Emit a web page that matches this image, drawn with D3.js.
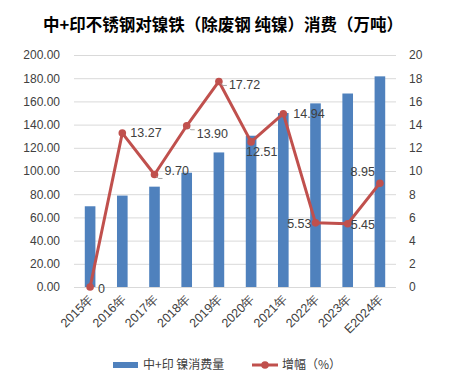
<!DOCTYPE html>
<html><head><meta charset="utf-8">
<script src="https://cdn.jsdelivr.net/npm/d3@7"></script>
<style>body{margin:0;background:#fff;}svg{display:block;font-family:"Noto Sans CJK SC","Liberation Sans",sans-serif;}</style>
</head><body><svg id="c" width="451" height="383"></svg>
<script>
const categories = ["2015年","2016年","2017年","2018年","2019年","2020年","2021年","2022年","2023年","E2024年"];
const consumption = [69.6, 78.8, 86.5, 98.5, 116.0, 130.4, 150.0, 158.3, 166.8, 181.6];
const growth = [0, 13.27, 9.70, 13.90, 17.72, 12.51, 14.94, 5.53, 5.45, 8.95];
const growthLabels = ["0","13.27","9.70","13.90","17.72","12.51","14.94","5.53","5.45","8.95"];
const leftTicks = [0,20,40,60,80,100,120,140,160,180,200];
const rightTicks = [0,2,4,6,8,10,12,14,16,18,20];
const title = "中+印不锈钢对镍铁（除废钢 纯镍）消费（万吨）";
const legendNames = ["中+印 镍消费量","增幅（%）"];
// label placement offsets [dx, dy, anchor, leader]
const labelPos = [[8,6,"start",0],[8,4,"start",0],[10,1,"start",1],[10,12,"start",1],[10,8,"start",1],[-5,14,"start",0],[10,4,"start",0],[-4,5,"end",0],[3,5,"start",0],[-5,-7,"end",0]];

const svg = d3.select("#c");
const L = 74, R = 396, T = 55, B = 287;
const x = d3.scaleBand().domain(categories).range([L, R]).paddingInner(0.67).paddingOuter(0.335);
const yL = d3.scaleLinear().domain([0,200]).range([B,T]);
const yR = d3.scaleLinear().domain([0,20]).range([B,T]);
const blue = "#4F81BD", red = "#C0504D", txt = "#404040";

svg.append("text").attr("x",223).attr("y",31).attr("text-anchor","middle")
  .attr("font-size",16.5).attr("font-weight","bold").attr("fill","#000").text(title);

// grid
svg.append("g").selectAll("line").data(leftTicks).join("line")
  .attr("x1",L).attr("x2",R).attr("y1",d=>yL(d)+0.5).attr("y2",d=>yL(d)+0.5)
  .attr("stroke","#d9d9d9").attr("stroke-width",1);

// left axis
const gl = svg.append("g").attr("transform",`translate(${L},0)`)
  .call(d3.axisLeft(yL).tickValues(leftTicks).tickFormat(d3.format(".2f")).tickSize(0).tickPadding(14));
gl.select(".domain").remove();
gl.selectAll("text").attr("font-size",12).attr("fill",txt).attr("font-family","Liberation Sans, sans-serif");

// right axis
const gr = svg.append("g").attr("transform",`translate(${R},0)`)
  .call(d3.axisRight(yR).tickValues(rightTicks).tickFormat(d3.format("d")).tickSize(0).tickPadding(13));
gr.select(".domain").remove();
gr.selectAll("text").attr("font-size",12).attr("fill",txt).attr("font-family","Liberation Sans, sans-serif");

// bars
svg.append("g").selectAll("rect").data(consumption).join("rect")
  .attr("x",(d,i)=>x(categories[i])).attr("width",x.bandwidth())
  .attr("y",d=>yL(d)).attr("height",d=>B-yL(d)).attr("fill",blue);

// x axis labels
const gx = svg.append("g").attr("transform",`translate(0,${B})`)
  .call(d3.axisBottom(x).tickSize(0).tickPadding(5));
gx.select(".domain").remove();
gx.selectAll("text").attr("font-size",12.5).attr("fill",txt)
  .attr("text-anchor","end").attr("dx","-0.45em").attr("dy","0.55em")
  .attr("transform","rotate(-45)");

// line
const cx = i => x(categories[i]) + x.bandwidth()/2;
const line = d3.line().x((d,i)=>cx(i)).y(d=>yR(d));
svg.append("path").datum(growth).attr("d",line).attr("fill","none")
  .attr("stroke",red).attr("stroke-width",3).attr("stroke-linejoin","round");
svg.append("g").selectAll("circle").data(growth).join("circle")
  .attr("cx",(d,i)=>cx(i)).attr("cy",d=>yR(d)).attr("r",3.8).attr("fill",red);

// labels
const lg = svg.append("g");
growth.forEach((d,i)=>{
  const p = labelPos[i];
  const px = cx(i), py = yR(d);
  if (p[3]) {
    lg.append("path").attr("d",`M${px+2},${py+2} L${px+4},${py+4} L${px+8},${py+4}`)
      .attr("fill","none").attr("stroke","#a6a6a6").attr("stroke-width",1);
  }
  lg.append("text").attr("x",px+p[0]).attr("y",py+p[1]).attr("text-anchor",p[2])
    .attr("font-size",12.5).attr("fill",txt).attr("font-family","Liberation Sans, sans-serif").text(growthLabels[i]);
});

// legend
const leg = svg.append("g");
leg.append("rect").attr("x",113).attr("y",362).attr("width",25).attr("height",6).attr("fill",blue);
leg.append("text").attr("x",143).attr("y",369).attr("font-size",12).attr("fill",txt).text(legendNames[0]);
leg.append("line").attr("x1",252).attr("x2",278).attr("y1",365).attr("y2",365).attr("stroke",red).attr("stroke-width",3);
leg.append("circle").attr("cx",265).attr("cy",365).attr("r",3.8).attr("fill",red);
leg.append("text").attr("x",282).attr("y",369).attr("font-size",12).attr("fill",txt).text(legendNames[1]);
</script></body></html>
